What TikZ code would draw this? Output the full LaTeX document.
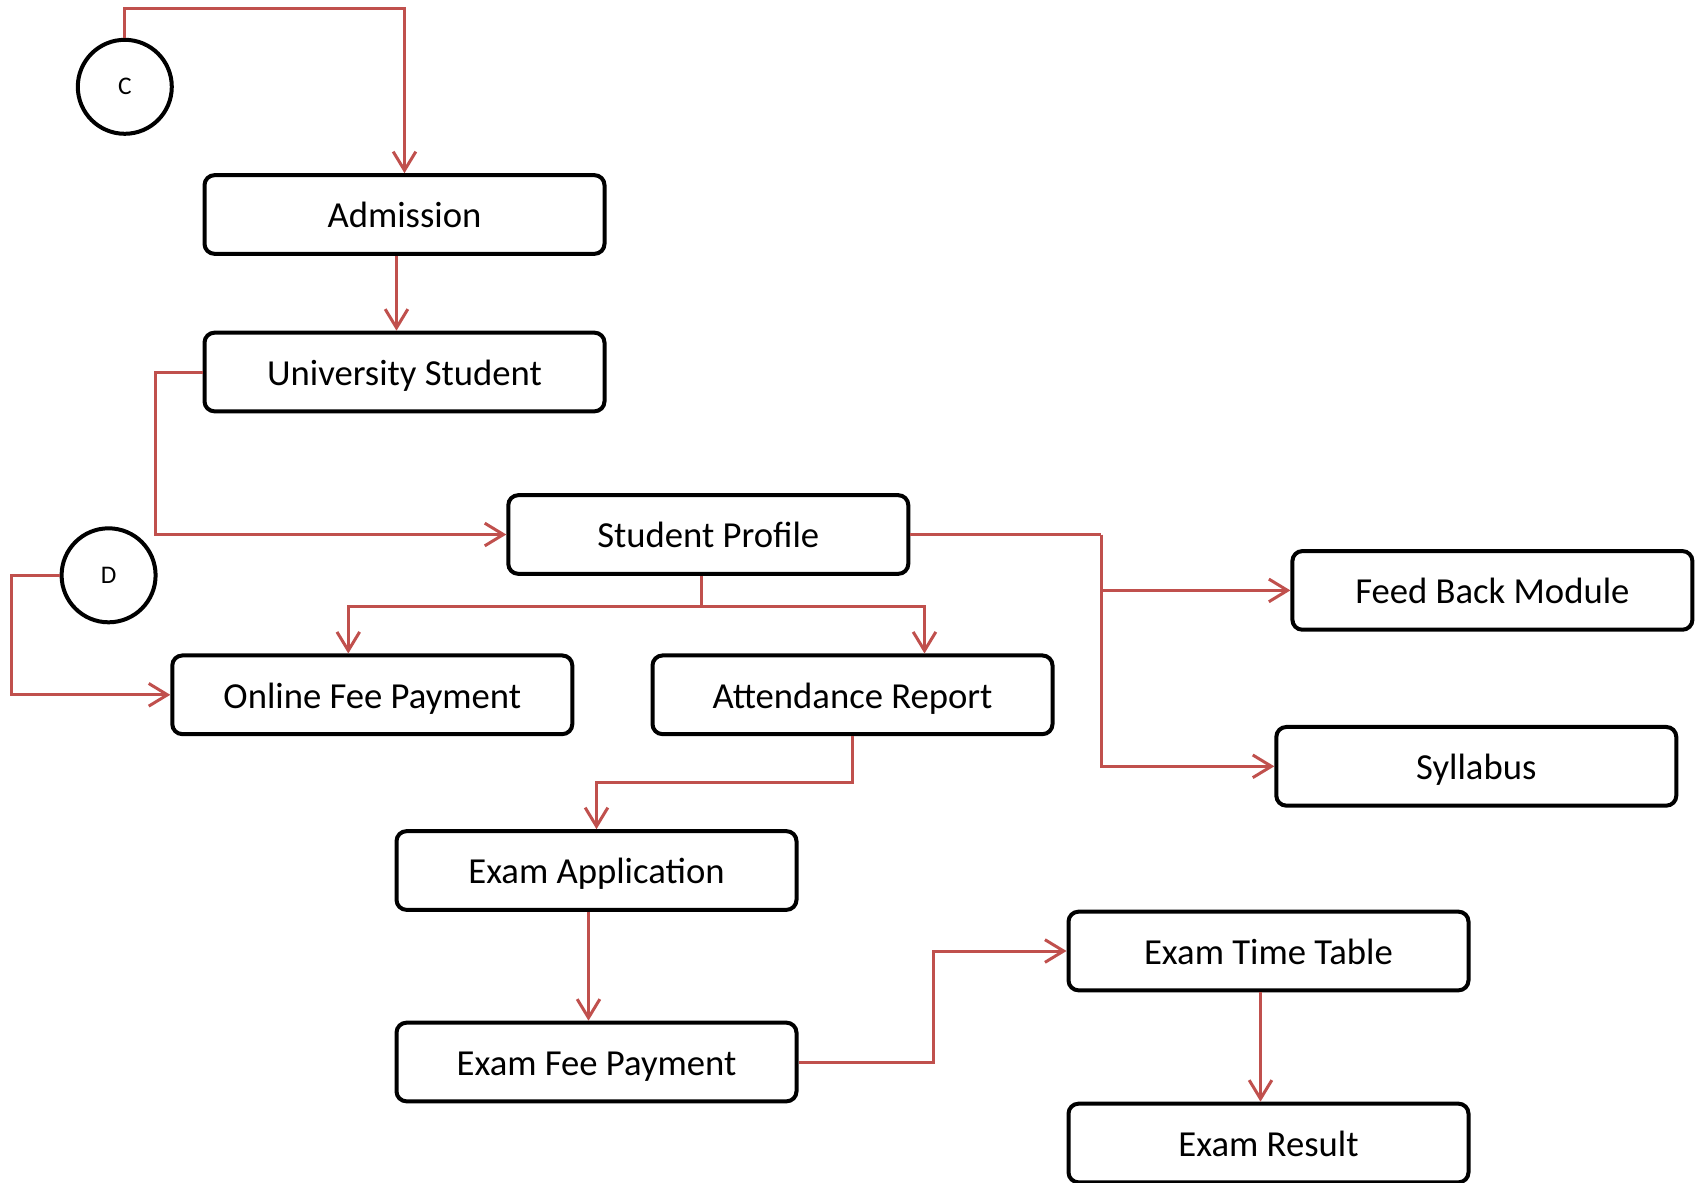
\documentclass[tikz,border=0pt]{standalone}
\usepackage{fontspec}
\setmainfont{Carlito}
\usetikzlibrary{arrows.meta}

\begin{document}
\begin{tikzpicture}[x=0.75pt,y=0.75pt,yscale=-1,xscale=1,
  box/.style={draw, rounded corners=7.5pt, line width=3pt, minimum width=300pt, minimum height=59pt, inner sep=0.75pt, text height=22pt, text depth=2pt, font=\fontsize{27.5}{33}\selectfont},
  conn/.style={draw, circle, line width=3pt, minimum size=70.5pt, inner sep=0pt, font=\fontsize{19}{23}\selectfont},
  line/.style={color={rgb, 255:red, 192; green, 80; blue, 77 }, draw opacity=1, line width=2.25pt},
  link/.style={line, -{Straight Barb[length=14pt,width=17pt,line width=2.25pt]}}]
\useasboundingbox (0,0) rectangle (1702,1182);

%Shape: Circle 
\draw (124.8,86.8) node [conn] (c) {C};
%Shape: Circle 
\draw (108.6,575.3) node [conn] (d) {D};

% Text Node
\draw (404.5,214.5) node [box] (adm) {Admission};
% Text Node
\draw (404.5,372) node [box] (uni) {University Student};
% Text Node
\draw (708.3,534.5) node [box] (sp) {Student Profile};
% Text Node
\draw (372.3,694.8) node [box] (ofp) {Online Fee Payment};
% Text Node
\draw (852.5,694.8) node [box] (att) {Attendance Report};
% Text Node
\draw (1492.4,590.4) node [box] (fbm) {Feed Back Module};
% Text Node
\draw (1476.3,766.3) node [box] (syl) {Syllabus};
% Text Node
\draw (596.5,870.5) node [box] (ea) {Exam Application};
% Text Node
\draw (596.5,1062) node [box] (efp) {Exam Fee Payment};
% Text Node
\draw (1268.5,951) node [box] (ett) {Exam Time Table};
% Text Node
\draw (1268.5,1143) node [box] (er) {Exam Result};

%Straight Lines 
\draw [link] (c.north) -- ++(0,-29) -| (adm.north) ;
%Straight Lines 
\draw [link] ([xshift=-6pt]adm.south) -- ([xshift=-6pt]uni.north) ;
%Straight Lines 
\draw [link] (uni.west) -- ++(-47,0) |- (sp.west) ;
%Straight Lines 
\draw [link] (d.west) -- ++(-48,0) |- (ofp.west) ;
%Straight Lines 
\draw [line] ([xshift=-5pt]sp.south) -- ++(0,31) coordinate (split) ;
\draw [link] (split) -| ([xshift=-18pt]ofp.north) ;
\draw [link] (split) -| ([xshift=54pt]att.north) ;
%Straight Lines 
\draw [line] (sp.east) -- ++(191,0) coordinate (fork) ;
\draw [link] (fork) |- (fbm.west) ;
\draw [link] (fork) |- (syl.west) ;
%Straight Lines 
\draw [link] (att.south) -- ++(0,46) -| (ea.north) ;
%Straight Lines 
\draw [link] ([xshift=-6pt]ea.south) -- ([xshift=-6pt]efp.north) ;
%Straight Lines 
\draw [link] (efp.east) -- ++(135,0) |- (ett.west) ;
%Straight Lines 
\draw [link] ([xshift=-6pt]ett.south) -- ([xshift=-6pt]er.north) ;

\end{tikzpicture}
\end{document}
